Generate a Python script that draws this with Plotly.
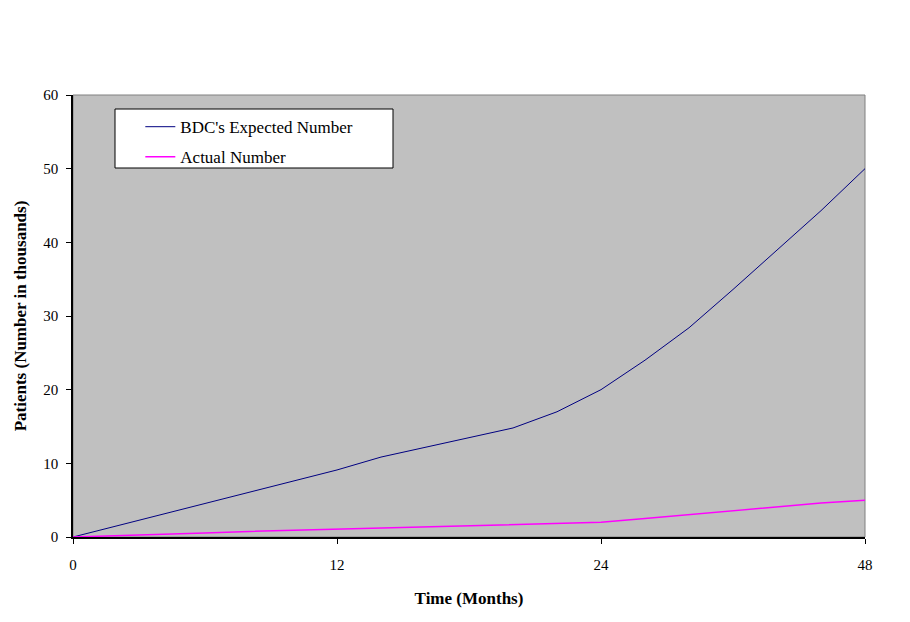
import plotly.graph_objects as go

# months on the category axis (Excel-style evenly spaced categories)
months = ["0", "2", "4", "6", "8", "10", "12", "14", "16", "18", "20", "22", "24",
          "28", "32", "36", "40", "44", "48"]
expected = [0, 1.5, 3.0, 4.55, 6.05, 7.6, 9.1, 10.85, 12.2, 13.5, 14.8, 17.0, 20.0,
            24.0, 28.4, 33.6, 39.0, 44.3, 50.0]
actual = [0, 0.15, 0.35, 0.55, 0.75, 0.9, 1.05, 1.25, 1.35, 1.45, 1.6, 1.8, 2.0,
          2.5, 3.05, 3.6, 4.1, 4.6, 5.0]
tick_months = ["0", "12", "24", "48"]
y_ticks = [0, 10, 20, 30, 40, 50, 60]

FONT = "Liberation Serif"

fig = go.Figure()
fig.add_trace(go.Scatter(
    x=months, y=expected, mode="lines", name="BDC's Expected Number",
    line=dict(color="#000080", width=1), legendgroup="a",
))
fig.add_trace(go.Scatter(
    x=months, y=actual, mode="lines", name="Actual Number",
    line=dict(color="#FF00FF", width=1.5), legendgroup="b",
))

# page body has an 8px margin, so the figure is drawn 8px smaller
fig.update_layout(
    width=902, height=614,
    margin=dict(l=65, r=45, t=87, b=85),
    paper_bgcolor="white", plot_bgcolor="#C0C0C0",
    font=dict(family=FONT, size=15, color="black"),
    showlegend=True,
    legend=dict(
        x=0.085, y=0.968, xanchor="left", yanchor="top",
        bgcolor="rgba(0,0,0,0)", borderwidth=0,
        font=dict(family=FONT, size=17, color="black"),
        traceorder="grouped", tracegroupgap=5,
    ),
    shapes=[
        # grey frame on top/right of plot area
        dict(type="rect", xref="paper", yref="paper", x0=0, x1=1, y0=0, y1=1,
             line=dict(color="#808080", width=1), layer="below"),
        # legend box
        dict(type="rect", xref="paper", yref="paper",
             x0=(115 - 73) / 792, x1=(393 - 73) / 792,
             y0=(537 - 168) / 442, y1=(537 - 109) / 442,
             fillcolor="white", line=dict(color="black", width=1), layer="below"),
    ],
)

fig.update_xaxes(
    type="category", categoryorder="array", categoryarray=months,
    range=[0, len(months) - 1],
    tickmode="array", tickvals=tick_months, ticktext=tick_months,
    ticks="outside", ticklen=5, tickcolor="black", tickwidth=1,
    showline=True, linecolor="black", linewidth=1.5,
    showgrid=False, zeroline=False, ticklabelstandoff=8,
    title=dict(text="<b>Time (Months)</b>", font=dict(size=17), standoff=20),
)
fig.update_yaxes(
    range=[0, 60], tickvals=y_ticks,
    ticks="outside", ticklen=5, tickcolor="black", tickwidth=1,
    showline=True, linecolor="black", linewidth=1.5,
    showgrid=False, zeroline=False, ticklabelstandoff=5,
    title=dict(text="<b>Patients (Number in thousands)</b>", font=dict(size=17), standoff=12),
)

# inner halves of the crossing tick marks
fig.update_layout(
    xaxis2=dict(overlaying="x", side="bottom", range=[0, len(months) - 1],
                tickvals=[0, 6, 12, 18], ticks="inside", ticklen=5, tickcolor="black",
                showticklabels=False, showgrid=False, zeroline=False, showline=False),
    yaxis2=dict(overlaying="y", side="left", range=[0, 60], tickvals=y_ticks,
                ticks="inside", ticklen=5, tickcolor="black",
                showticklabels=False, showgrid=False, zeroline=False, showline=False),
)

fig.write_html("out.html")
